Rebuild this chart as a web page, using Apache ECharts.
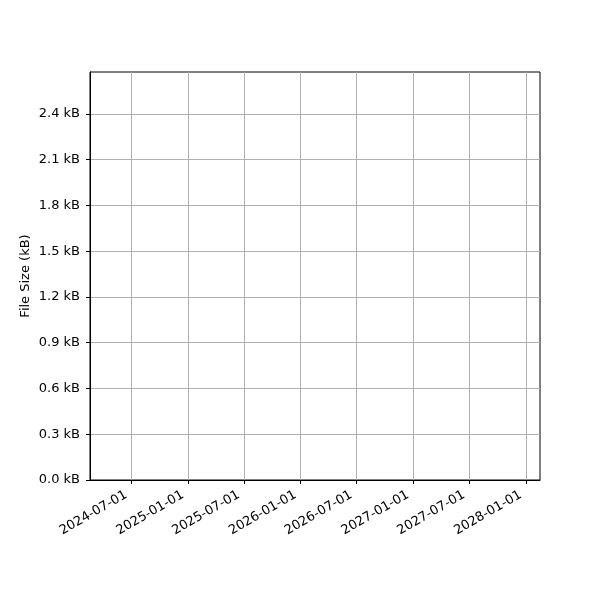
<!DOCTYPE html>
<html>
<head>
<meta charset="utf-8">
<script src="https://cdn.jsdelivr.net/npm/echarts@6/dist/echarts.min.js"></script>
<style>html,body{margin:0;padding:0;background:#fff}#c{width:600px;height:600px}</style>
</head>
<body>
<div id="c"></div>
<script>
// Data (the reference chart shows no plotted data)
const dates = [];
const fileSizes = [];
// Tick labels
const xTickLabels = ['2024-07-01','2025-01-01','2025-07-01','2026-01-01','2026-07-01','2027-01-01','2027-07-01','2028-01-01'];
const yTickValues = [0, 0.3, 0.6, 0.9, 1.2, 1.5, 1.8, 2.1, 2.4];
const xMin = '2024-02-18';
const xMax = '2028-02-16';
const yMax = 2.675;

const toTs = s => { const [y,m,d] = s.split('-').map(Number); return Date.UTC(y, m-1, d); };
const xTicks = xTickLabels.map(toTs);
const fmtDate = v => new Date(v).toISOString().slice(0,10);

const chart = echarts.init(document.getElementById('c'), null, {renderer:'canvas'});
const font = 'DejaVu Sans';
chart.setOption({
  animation: false,
  backgroundColor: '#fff',
  grid: {left: 90, right: 60, top: 72, bottom: 120, show: true, borderColor: '#000', borderWidth: 1, backgroundColor: 'transparent'},
  xAxis: {
    type: 'value',
    min: toTs(xMin), max: toTs(xMax),
    axisLine: {show: true, lineStyle: {color: '#000', width: 1}},
    axisTick: {show: true, customValues: xTicks, length: 4, lineStyle: {color: '#000', width: 1}},
    axisLabel: {customValues: xTicks, rotate: 30, formatter: v => fmtDate(v), color: '#000', fontFamily: font, fontSize: 13, margin: 11, padding: [0, 6, 0, 0], hideOverlap: false},
    splitLine: {show: true, lineStyle: {color: '#b0b0b0', width: 1}}
  },
  yAxis: {
    type: 'value',
    min: 0, max: yMax,
    name: 'File Size (kB)',
    nameLocation: 'middle',
    nameGap: 58,
    nameMoveOverlap: false,
    nameTextStyle: {color: '#000', fontFamily: font, fontSize: 13},
    axisLine: {show: true, lineStyle: {color: '#000', width: 1}},
    axisTick: {show: true, customValues: yTickValues, length: 4, lineStyle: {color: '#000', width: 1}},
    axisLabel: {customValues: yTickValues, formatter: v => v.toFixed(1) + ' kB', color: '#000', fontFamily: font, fontSize: 13, margin: 10},
    splitLine: {show: true, lineStyle: {color: '#b0b0b0', width: 1}}
  },
  series: [{
    type: 'line',
    data: dates.map((d, i) => [toTs(d), fileSizes[i]]),
    showSymbol: false
  }]
});
</script>
</body>
</html>
